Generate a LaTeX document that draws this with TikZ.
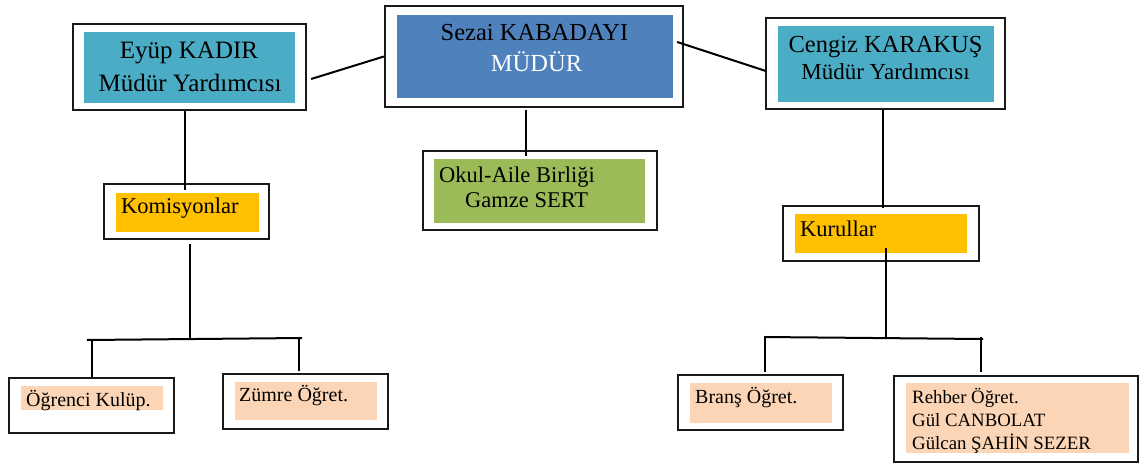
\documentclass[tikz,border=0pt]{standalone}
\usepackage{fontspec}
\setmainfont{Liberation Serif}
\definecolor{vpteal}{HTML}{4BACC6}
\definecolor{vpblue}{HTML}{4F81BD}
\definecolor{vpgreen}{HTML}{9BBB59}
\definecolor{vporange}{HTML}{FFC000}
\definecolor{vppeach}{HTML}{FBD5B5}

\tikzset{
  frame/.style={draw=black!90,line width=2.3pt,fill=white,inner sep=0pt},
  panel/.style={draw=none,inner sep=0pt},
  txt/.style={inner sep=0pt},
  bigtxt/.style={txt,font=\fontsize{25}{30}\selectfont},
  midtxt/.style={txt,font=\fontsize{22.5}{27}\selectfont},
  smalltxt/.style={txt,font=\fontsize{20}{24}\selectfont},
  tinytxt/.style={txt,font=\fontsize{18.8}{23}\selectfont},
  link/.style={line width=2pt,black}
}

\begin{document}
\begin{tikzpicture}[x=1pt,y=-1pt]
\useasboundingbox (0,0) rectangle (1139,464);

% top row
\node[frame,minimum width=233,minimum height=86] (kadir) at (189.5,67) {};
\node[panel,fill=vpteal,minimum width=211,minimum height=71] (kadirin) at (189.5,67.5) {};
\node[bigtxt,anchor=base] (kadirname) at (189,58) {Eyüp KADIR};
\node[bigtxt,anchor=base] (kadirrole) at (190,91) {Müdür Yardımcısı};

\node[frame,minimum width=298,minimum height=101] (sezai) at (534,56.5) {};
\node[panel,fill=vpblue,minimum width=276,minimum height=83] (sezaiin) at (535,56.5) {};
\node[bigtxt,font=\fontsize{24.5}{30}\selectfont,anchor=base] (sezainame) at (534.5,40) {Sezai KABADAYI};
\node[bigtxt,font=\fontsize{24.5}{30}\selectfont,anchor=base,text=white] (sezairole) at (536.5,71) {MÜDÜR};

\node[frame,minimum width=239,minimum height=91] (cengiz) at (885.5,63.5) {};
\node[panel,fill=vpteal,minimum width=216,minimum height=76] (cengizin) at (886,64) {};
\node[bigtxt,font=\fontsize{24.5}{30}\selectfont,anchor=base] (cengizname) at (885.5,52) {Cengiz KARAKUŞ};
\node[txt,font=\fontsize{23}{27}\selectfont,anchor=base] (cengizrole) at (885.5,79) {Müdür Yardımcısı};

% middle row
\node[frame,minimum width=234,minimum height=79] (okul) at (540,190.5) {};
\node[panel,fill=vpgreen,minimum width=211,minimum height=64] (okulin) at (539.5,191) {};
\node[midtxt,anchor=base west] (okulname) at (439,182) {Okul-Aile Birliği};
\node[midtxt,anchor=base west] (okulhead) at (465,207) {Gamze SERT};

\node[frame,minimum width=165,minimum height=55] (komis) at (186.5,211.5) {};
\node[panel,fill=vporange,minimum width=143,minimum height=39] (komisin) at (187.5,212.5) {};
\node[midtxt,anchor=base west] (komisname) at (121,213) {Komisyonlar};

\node[frame,minimum width=196,minimum height=55] (kurul) at (881,233.5) {};
\node[panel,fill=vporange,minimum width=172,minimum height=39] (kurulin) at (881,233.5) {};
\node[midtxt,anchor=base west] (kurulname) at (800,236) {Kurullar};

% bottom row
\node[frame,minimum width=165,minimum height=55] (ogrenci) at (91.5,405.5) {};
\node[panel,fill=vppeach,minimum width=142,minimum height=24] (ogrenciin) at (92,398) {};
\node[smalltxt,anchor=base west] (ogrenciname) at (26,406) {Öğrenci Kulüp.};

\node[frame,minimum width=165,minimum height=55] (zumre) at (305.5,401.5) {};
\node[panel,fill=vppeach,minimum width=142,minimum height=38] (zumrein) at (306,401) {};
\node[smalltxt,anchor=base west] (zumrename) at (239,401) {Zümre Öğret.};

\node[frame,minimum width=165,minimum height=55] (brans) at (760.5,402.5) {};
\node[panel,fill=vppeach,minimum width=142,minimum height=40] (bransin) at (761,403) {};
\node[smalltxt,anchor=base west] (bransname) at (695,403) {Branş Öğret.};

\node[frame,minimum width=244,minimum height=86] (rehber) at (1016,419) {};
\node[panel,fill=vppeach,minimum width=223,minimum height=70] (rehberin) at (1017.5,418) {};
\node[tinytxt,anchor=base west] (rehbername) at (912,403) {Rehber Öğret.};
\node[tinytxt,anchor=base west] (rehberone) at (912,426) {Gül CANBOLAT};
\node[tinytxt,anchor=base west] (rehbertwo) at (912,449) {Gülcan ŞAHİN SEZER};

% connectors
\draw[link] ([shift={(4,12)}]kadir.east) -- (sezai.west);
\draw[link] ([shift={(-7,-14.5)}]sezai.east) -- ([shift={(1,7.5)}]cengiz.west);
\draw[link] ([shift={(-8,2)}]sezai.south) -- ([shift={(-14,6)}]okul.north);
\draw[link] ([shift={(-4.5,0)}]kadir.south) -- ([shift={(-1.5,7)}]komis.north);
\draw[link] ([shift={(-2.5,0)}]cengiz.south) -- ([shift={(2,3)}]kurul.north);

\coordinate (ljoint) at (190,339.5);
\coordinate (lbarw) at (87,340);
\coordinate (lbare) at (302,338);
\draw[link] ([shift={(3.5,4)}]komis.south) -- (ljoint);
\draw[link] (lbarw) -- (lbare);
\draw[link] (ogrenci.north |- lbarw) -- (ogrenci.north);
\draw[link] ([shift={(-6.5,-36)}]zumre.north) -- ([shift={(-6.5,-2)}]zumre.north);

\coordinate (rjoint) at (886,337.5);
\coordinate (rbarw) at (764,337);
\coordinate (rbare) at (983,339);
\draw[link] ([shift={(5,-14)}]kurul.south) -- (rjoint);
\draw[link] (rbarw) -- (rbare);
\draw[link] ([shift={(4.5,-38)}]brans.north) -- ([shift={(4.5,-2)}]brans.north);
\draw[link] ([shift={(-35,-38)}]rehber.north) -- ([shift={(-35,-3)}]rehber.north);
\end{tikzpicture}
\end{document}
